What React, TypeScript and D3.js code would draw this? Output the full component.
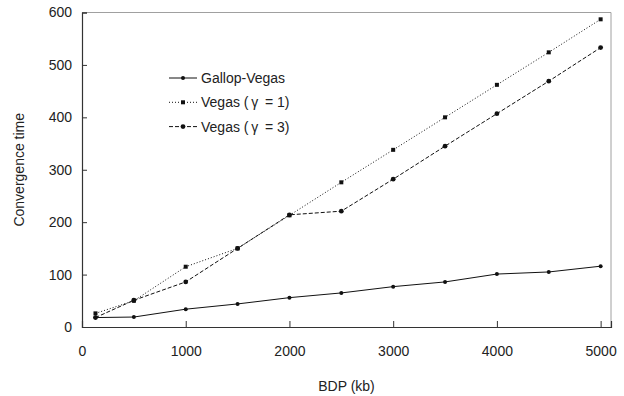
import { useEffect, useRef } from "react";
import * as d3 from "d3";

const bdp = [130, 500, 1000, 1500, 2000, 2500, 3000, 3500, 4000, 4500, 5000];
const gallopVegas = [18, 19, 34, 44, 56, 65, 77, 86, 101, 105, 116];
const vegasGamma1 = [26, 50, 115, 150, 213, 276, 338, 400, 462, 524, 587];
const vegasGamma3 = [18, 51, 86, 150, 214, 221, 282, 345, 407, 469, 533];

const xTicks = [0, 1000, 2000, 3000, 4000, 5000];
const yTicks = [0, 100, 200, 300, 400, 500, 600];

const SERIES = [
  { name: "Gallop-Vegas", values: gallopVegas, dash: null, marker: "circle", r: 2 },
  { name: "Vegas (\u2009\u03b3 \u2009= 1)", values: vegasGamma1, dash: "1,2", marker: "square", r: 2 },
  { name: "Vegas (\u2009\u03b3 \u2009= 3)", values: vegasGamma3, dash: "4,2", marker: "circle", r: 2.4 },
];

const W = 624;
const H = 396;
const m = { left: 82, right: 13, top: 12.5, bottom: 69 };
const FONT = "'Liberation Sans', Arial, sans-serif";

const App = () => {
  const svgRef = useRef(null);

  useEffect(() => {
    const svg = d3.select(svgRef.current);
    svg.selectAll("*").remove();

    const xScale = d3.scaleLinear().domain([0, 5100]).range([m.left, W - m.right]);
    const yScale = d3.scaleLinear().domain([0, 600]).range([H - m.bottom, m.top]);

    // plot frame: grey top/right
    svg
      .append("path")
      .attr("d", `M${xScale(0)},${yScale(600)}H${xScale(5100)}V${yScale(0)}`)
      .attr("fill", "none")
      .attr("stroke", "#a0a0a0")
      .attr("stroke-width", 1);

    // axes
    const yAxis = d3
      .axisLeft(yScale)
      .tickValues(yTicks)
      .tickFormat(d3.format("d"))
      .tickSize(-5)
      .tickPadding(10);
    const gy = svg.append("g").attr("transform", `translate(${xScale(0)},0)`).call(yAxis);
    const xAxis = d3
      .axisBottom(xScale)
      .tickValues(xTicks)
      .tickFormat(d3.format("d"))
      .tickSize(-6)
      .tickPadding(19);
    const gx = svg.append("g").attr("transform", `translate(0,${yScale(0)})`).call(xAxis);

    [gx, gy].forEach((g) => {
      g.select(".domain").attr("stroke", "#333").attr("stroke-width", 1.2);
      g.selectAll(".tick line").attr("stroke", "#333");
      g.selectAll(".tick text")
        .attr("font-family", FONT)
        .attr("font-size", 14)
        .attr("fill", "#222");
    });
    gx.selectAll(".tick line").filter((d) => d === 0).remove();
    gy.selectAll(".tick line").filter((d) => d === 0).remove();

    // axis titles
    svg
      .append("text")
      .attr("x", (xScale(0) + xScale(5100)) / 2)
      .attr("y", 391)
      .attr("text-anchor", "middle")
      .attr("font-family", FONT)
      .attr("font-size", 14)
      .attr("fill", "#222")
      .text("BDP (kb)");

    svg
      .append("text")
      .attr("transform", `translate(24,${(yScale(0) + yScale(600)) / 2}) rotate(-90)`)
      .attr("text-anchor", "middle")
      .attr("font-family", FONT)
      .attr("font-size", 14)
      .attr("fill", "#222")
      .text("Convergence time");

    const line = d3
      .line<number>()
      .x((d, i) => xScale(bdp[i]))
      .y((d) => yScale(d));

    const drawMarker = (g, type, x, y, r) => {
      if (type === "square")
        g.append("rect")
          .attr("x", x - r)
          .attr("y", y - r)
          .attr("width", 2 * r)
          .attr("height", 2 * r)
          .attr("fill", "#111");
      else g.append("circle").attr("cx", x).attr("cy", y).attr("r", r).attr("fill", "#111");
    };

    SERIES.forEach((s) => {
      const g = svg.append("g");
      g.append("path")
        .attr("d", line(s.values))
        .attr("fill", "none")
        .attr("stroke", "#111")
        .attr("stroke-width", 1)
        .attr("stroke-dasharray", s.dash);
      s.values.forEach((v, i) => drawMarker(g, s.marker, xScale(bdp[i]), yScale(v), s.r));
    });

    // legend
    const legend = svg.append("g").attr("transform", "translate(169,78)");
    SERIES.forEach((s, i) => {
      const row = legend.append("g").attr("transform", `translate(0,${i * 24.3})`);
      row.append("line")
        .attr("x1", 0)
        .attr("x2", 28)
        .attr("stroke", "#111")
        .attr("stroke-width", 1)
        .attr("stroke-dasharray", s.dash);
      drawMarker(row, s.marker, 14, 0, s.r);
      row.append("text")
        .attr("x", 32)
        .attr("dy", "0.35em")
        .attr("font-family", FONT)
        .attr("font-size", 14)
        .attr("fill", "#222")
        .text(s.name);
    });
  }, []);

  return (
    <svg
      ref={svgRef}
      width={W}
      height={H}
      style={{ position: "absolute", left: 0, top: 0, background: "#fff" }}
    ></svg>
  );
};

export default App;
